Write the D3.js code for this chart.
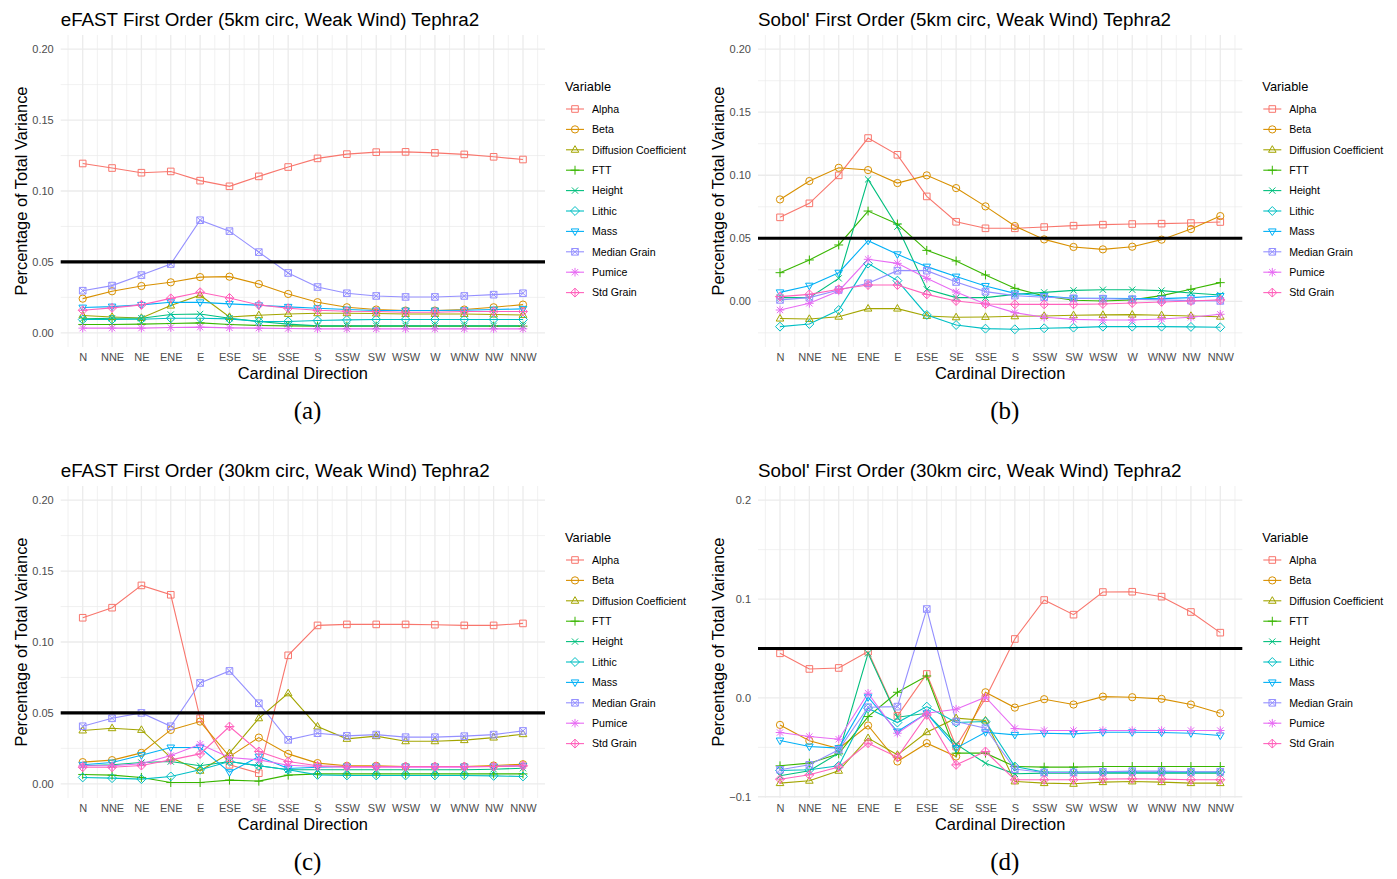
<!DOCTYPE html>
<html>
<head>
<meta charset="utf-8">
<script src="https://cdn.jsdelivr.net/npm/d3@7/dist/d3.min.js"></script>
<style>
  html, body { margin: 0; padding: 0; background: #ffffff; }
  svg { display: block; }
  text { font-family: "Liberation Sans", Arial, Helvetica, sans-serif; }
</style>
</head>
<body>
<svg id="fig" width="1397" height="879"></svg>
<script>
// Cardinal directions on the x axis
const directions = ["N","NNE","NE","ENE","E","ESE","SE","SSE","S","SSW","SW","WSW","W","WNW","NW","NNW"];
// Input variables (legend order)
const variables = ["Alpha","Beta","Diffusion Coefficient","FTT","Height","Lithic","Mass","Median Grain","Pumice","Std Grain"];
const colors = ["#F8766D","#D89000","#A3A500","#39B600","#00BF7D","#00BFC4","#00B0F6","#9590FF","#E76BF3","#FF62BC"];
const shapes = ["square","circle","triangle","plus","cross","diamond","triangleDown","squareCross","asterisk","diamondPlus"];
const threshold = 0.05;

// First-order indices, one row per variable, one column per direction
const efast5km = [
  [0.1194,0.1162,0.1129,0.1138,0.1073,0.1033,0.1103,0.1169,0.1230,0.1260,0.1274,0.1276,0.1269,0.1258,0.1241,0.1222],
  [0.0241,0.0293,0.0330,0.0356,0.0393,0.0396,0.0344,0.0274,0.0216,0.0180,0.0164,0.0157,0.0157,0.0164,0.0180,0.0199],
  [0.0122,0.0112,0.0105,0.0192,0.0265,0.0112,0.0124,0.0133,0.0138,0.0138,0.0136,0.0133,0.0133,0.0133,0.0129,0.0126],
  [0.0059,0.0059,0.0061,0.0066,0.0070,0.0059,0.0052,0.0049,0.0047,0.0047,0.0047,0.0047,0.0047,0.0047,0.0047,0.0047],
  [0.0098,0.0103,0.0103,0.0129,0.0133,0.0103,0.0080,0.0061,0.0049,0.0049,0.0049,0.0049,0.0049,0.0049,0.0049,0.0049],
  [0.0094,0.0094,0.0096,0.0103,0.0103,0.0098,0.0080,0.0080,0.0087,0.0091,0.0094,0.0094,0.0094,0.0094,0.0094,0.0094],
  [0.0178,0.0185,0.0197,0.0215,0.0215,0.0204,0.0194,0.0183,0.0173,0.0164,0.0157,0.0157,0.0157,0.0159,0.0164,0.0169],
  [0.0297,0.0333,0.0407,0.0485,0.0794,0.0717,0.0569,0.0422,0.0323,0.0279,0.0260,0.0253,0.0253,0.0260,0.0269,0.0279],
  [0.0033,0.0033,0.0033,0.0037,0.0040,0.0035,0.0033,0.0030,0.0028,0.0028,0.0028,0.0028,0.0028,0.0028,0.0028,0.0028],
  [0.0159,0.0176,0.0197,0.0243,0.0286,0.0246,0.0197,0.0173,0.0159,0.0152,0.0150,0.0145,0.0145,0.0150,0.0150,0.0150]
];
const sobol5km = [
  [0.0666,0.0777,0.0999,0.1295,0.1162,0.0832,0.0631,0.0579,0.0579,0.0589,0.0600,0.0608,0.0613,0.0616,0.0621,0.0629],
  [0.0808,0.0954,0.1059,0.1041,0.0938,0.0999,0.0898,0.0753,0.0597,0.0491,0.0431,0.0412,0.0433,0.0489,0.0573,0.0676],
  [-0.0137,-0.0140,-0.0122,-0.0058,-0.0058,-0.0116,-0.0127,-0.0124,-0.0119,-0.0116,-0.0111,-0.0108,-0.0106,-0.0111,-0.0116,-0.0122],
  [0.0227,0.0328,0.0447,0.0716,0.0613,0.0404,0.0320,0.0209,0.0103,0.0042,0.0008,0.0003,0.0011,0.0045,0.0095,0.0148],
  [0.0029,0.0029,0.0182,0.0967,0.0592,0.0095,0.0029,0.0029,0.0055,0.0071,0.0087,0.0092,0.0092,0.0085,0.0066,0.0050],
  [-0.0201,-0.0180,-0.0069,0.0299,0.0164,-0.0108,-0.0188,-0.0217,-0.0222,-0.0214,-0.0209,-0.0201,-0.0201,-0.0201,-0.0203,-0.0206],
  [0.0071,0.0124,0.0227,0.0481,0.0373,0.0275,0.0196,0.0122,0.0063,0.0042,0.0024,0.0024,0.0021,0.0021,0.0029,0.0042],
  [0.0011,0.0029,0.0090,0.0143,0.0243,0.0243,0.0153,0.0077,0.0045,0.0032,0.0024,0.0021,0.0016,0.0011,0.0005,0.0003],
  [-0.0069,-0.0016,0.0082,0.0333,0.0301,0.0182,0.0074,-0.0021,-0.0090,-0.0127,-0.0143,-0.0148,-0.0148,-0.0140,-0.0127,-0.0103],
  [0.0037,0.0055,0.0095,0.0129,0.0129,0.0055,0.0003,-0.0021,-0.0024,-0.0024,-0.0024,-0.0021,-0.0013,-0.0005,0.0003,0.0011]
];
const efast30km = [
  [0.1171,0.1242,0.1399,0.1333,0.0462,0.0134,0.0075,0.0906,0.1117,0.1124,0.1124,0.1124,0.1122,0.1117,0.1117,0.1131],
  [0.0153,0.0167,0.0218,0.0380,0.0439,0.0192,0.0326,0.0211,0.0146,0.0127,0.0127,0.0122,0.0122,0.0122,0.0129,0.0138],
  [0.0376,0.0392,0.0380,0.0185,0.0092,0.0216,0.0462,0.0638,0.0404,0.0317,0.0336,0.0300,0.0300,0.0308,0.0326,0.0350],
  [0.0066,0.0061,0.0045,0.0009,0.0009,0.0026,0.0019,0.0061,0.0070,0.0070,0.0070,0.0070,0.0070,0.0070,0.0070,0.0070],
  [0.0127,0.0134,0.0150,0.0157,0.0127,0.0157,0.0127,0.0099,0.0099,0.0099,0.0099,0.0099,0.0099,0.0099,0.0103,0.0110],
  [0.0045,0.0040,0.0033,0.0052,0.0099,0.0157,0.0127,0.0099,0.0063,0.0059,0.0059,0.0059,0.0059,0.0059,0.0056,0.0052],
  [0.0134,0.0150,0.0202,0.0256,0.0256,0.0082,0.0192,0.0108,0.0117,0.0122,0.0122,0.0122,0.0122,0.0122,0.0122,0.0127],
  [0.0406,0.0462,0.0500,0.0406,0.0711,0.0796,0.0568,0.0310,0.0357,0.0338,0.0347,0.0329,0.0329,0.0336,0.0347,0.0373],
  [0.0127,0.0127,0.0141,0.0200,0.0279,0.0185,0.0169,0.0131,0.0122,0.0117,0.0117,0.0117,0.0117,0.0117,0.0122,0.0127],
  [0.0117,0.0117,0.0129,0.0169,0.0211,0.0404,0.0228,0.0157,0.0127,0.0122,0.0122,0.0122,0.0122,0.0122,0.0122,0.0127]
];
const sobol30km = [
  [0.0451,0.0293,0.0303,0.0468,-0.0182,0.0242,-0.0492,-0.0003,0.0596,0.0990,0.0842,0.1071,0.1074,0.1024,0.0869,0.0660],
  [-0.0273,-0.0434,-0.0512,-0.0279,-0.0643,-0.0458,-0.0593,0.0057,-0.0098,-0.0013,-0.0067,0.0013,0.0007,-0.0010,-0.0067,-0.0155],
  [-0.0862,-0.0838,-0.0737,-0.0407,-0.0576,-0.0347,-0.0205,-0.0229,-0.0845,-0.0862,-0.0869,-0.0852,-0.0845,-0.0852,-0.0862,-0.0862],
  [-0.0687,-0.0660,-0.0566,-0.0189,0.0057,0.0222,-0.0559,-0.0559,-0.0694,-0.0700,-0.0700,-0.0694,-0.0694,-0.0694,-0.0694,-0.0694],
  [-0.0788,-0.0737,-0.0559,0.0451,-0.0195,-0.0155,-0.0468,-0.0660,-0.0768,-0.0761,-0.0761,-0.0761,-0.0761,-0.0761,-0.0761,-0.0761],
  [-0.0734,-0.0727,-0.0687,-0.0104,-0.0249,-0.0088,-0.0249,-0.0239,-0.0694,-0.0751,-0.0751,-0.0751,-0.0751,-0.0751,-0.0751,-0.0751],
  [-0.0431,-0.0492,-0.0508,0.0007,-0.0340,-0.0155,-0.0508,-0.0347,-0.0374,-0.0357,-0.0364,-0.0347,-0.0347,-0.0350,-0.0357,-0.0380],
  [-0.0727,-0.0677,-0.0525,-0.0094,-0.0088,0.0899,-0.0239,-0.0306,-0.0721,-0.0754,-0.0754,-0.0747,-0.0741,-0.0741,-0.0747,-0.0747],
  [-0.0350,-0.0391,-0.0418,0.0047,-0.0357,-0.0155,-0.0114,0.0007,-0.0310,-0.0330,-0.0330,-0.0330,-0.0330,-0.0330,-0.0330,-0.0330],
  [-0.0822,-0.0778,-0.0700,-0.0458,-0.0599,-0.0172,-0.0677,-0.0542,-0.0828,-0.0828,-0.0828,-0.0822,-0.0818,-0.0822,-0.0828,-0.0828]
];

// y limits: upper fixed at 0.2, lower either fixed or taken from the data
const panels = [
  { title: "eFAST First Order (5km circ, Weak Wind) Tephra2",  data: efast5km,  yLow: 0,      step: 0.05, digits: 2, caption: "(a)", col: 0, row: 0 },
  { title: "Sobol' First Order (5km circ, Weak Wind) Tephra2", data: sobol5km,  yLow: -0.025, step: 0.05, digits: 2, caption: "(b)", col: 1, row: 0 },
  { title: "eFAST First Order (30km circ, Weak Wind) Tephra2", data: efast30km, yLow: 0,      step: 0.05, digits: 2, caption: "(c)", col: 0, row: 1 },
  { title: "Sobol' First Order (30km circ, Weak Wind) Tephra2",data: sobol30km, yLow: null,   step: 0.1,  digits: 1, caption: "(d)", col: 1, row: 1 }
];

const svg = d3.select("#fig");
const colOffset = 697.3, rowOffset = 451;
const base = { left: 60.7, right: 545, top: 35, bottom: 347 };

function shapePath(type, s) {
  const p = d3.path();
  const sq = () => { p.rect(-s, -s, 2 * s, 2 * s); };
  const cr = (k) => { p.moveTo(-k, -k); p.lineTo(k, k); p.moveTo(-k, k); p.lineTo(k, -k); };
  const pl = (k) => { p.moveTo(-k, 0); p.lineTo(k, 0); p.moveTo(0, -k); p.lineTo(0, k); };
  const dm = (k) => { p.moveTo(0, -k); p.lineTo(k, 0); p.lineTo(0, k); p.lineTo(-k, 0); p.closePath(); };
  switch (type) {
    case "square": sq(); break;
    case "circle": p.moveTo(s * 1.1, 0); p.arc(0, 0, s * 1.1, 0, 2 * Math.PI); break;
    case "triangle": p.moveTo(0, -s * 1.25); p.lineTo(s * 1.15, s * 0.75); p.lineTo(-s * 1.15, s * 0.75); p.closePath(); break;
    case "triangleDown": p.moveTo(0, s * 1.25); p.lineTo(s * 1.15, -s * 0.75); p.lineTo(-s * 1.15, -s * 0.75); p.closePath(); break;
    case "plus": pl(s * 1.35); break;
    case "cross": cr(s * 0.95); break;
    case "diamond": dm(s * 1.35); break;
    case "squareCross": sq(); cr(s); break;
    case "asterisk": pl(s * 1.3); cr(s * 0.95); break;
    case "diamondPlus": dm(s * 1.35); pl(s * 1.35); break;
  }
  return p.toString();
}

const markerSize = 3.3;

panels.forEach(cfg => {
  const dx = cfg.col * colOffset, dy = cfg.row * rowOffset;
  const L = base.left + dx, R = base.right + dx, T = base.top + dy, B = base.bottom + dy;

  const allVals = cfg.data.flat();
  const lo = cfg.yLow !== null ? cfg.yLow : d3.min(allVals);
  const hi = 0.2;
  const padY = (hi - lo) * 0.05;
  const y = d3.scaleLinear().domain([lo - padY, hi + padY]).range([B, T]);
  const x = d3.scaleLinear().domain([0.25, directions.length + 0.75]).range([L, R]);

  const g = svg.append("g");

  // grid: minor then major
  const [d0, d1] = y.domain();
  const majors = [];
  for (let v = Math.ceil(d0 / cfg.step - 1e-9) * cfg.step; v <= d1 + 1e-9; v += cfg.step) majors.push(+v.toFixed(6));
  const minors = [];
  majors.forEach(v => { [v - cfg.step / 2, v + cfg.step / 2].forEach(m => { if (m >= d0 && m <= d1 && !minors.some(q => Math.abs(q - m) < 1e-9)) minors.push(m); }); });
  const xMajor = d3.range(1, directions.length + 1);
  const xMinor = d3.range(0.5, directions.length + 1, 1);

  g.selectAll(".ymin").data(minors).join("line")
    .attr("x1", L).attr("x2", R).attr("y1", d => y(d)).attr("y2", d => y(d))
    .attr("stroke", "#EBEBEB").attr("stroke-width", 0.7);
  g.selectAll(".xmin").data(xMinor).join("line")
    .attr("x1", d => x(d)).attr("x2", d => x(d)).attr("y1", T).attr("y2", B)
    .attr("stroke", "#EBEBEB").attr("stroke-width", 0.7);
  g.selectAll(".ymaj").data(majors).join("line")
    .attr("x1", L).attr("x2", R).attr("y1", d => y(d)).attr("y2", d => y(d))
    .attr("stroke", "#EBEBEB").attr("stroke-width", 1.3);
  g.selectAll(".xmaj").data(xMajor).join("line")
    .attr("x1", d => x(d)).attr("x2", d => x(d)).attr("y1", T).attr("y2", B)
    .attr("stroke", "#EBEBEB").attr("stroke-width", 1.3);

  // axes (text only, no axis lines)
  const yAxis = d3.axisLeft(y).tickValues(majors).tickSize(0).tickPadding(7)
    .tickFormat(d => d3.format(`.${cfg.digits}f`)(d).replace("-", "\u2212"));
  const ya = g.append("g").attr("transform", `translate(${L},0)`).call(yAxis);
  ya.select(".domain").remove();
  ya.selectAll("text").attr("font-size", 11).attr("fill", "#4D4D4D")
    .style("font-family", '"Liberation Sans", Arial, sans-serif');

  const xAxis = d3.axisBottom(x).tickValues(xMajor).tickSize(0).tickPadding(6)
    .tickFormat(d => directions[d - 1]);
  const xa = g.append("g").attr("transform", `translate(0,${B})`).call(xAxis);
  xa.select(".domain").remove();
  xa.selectAll("text").attr("font-size", 11).attr("fill", "#4D4D4D")
    .style("font-family", '"Liberation Sans", Arial, sans-serif');

  // series
  const line = d3.line().x((d, i) => x(i + 1)).y(d => y(d));
  cfg.data.forEach((vals, k) => {
    g.append("path").datum(vals).attr("d", line)
      .attr("fill", "none").attr("stroke", colors[k]).attr("stroke-width", 1.1);
  });
  cfg.data.forEach((vals, k) => {
    g.selectAll(null).data(vals).join("path")
      .attr("transform", (d, i) => `translate(${x(i + 1)},${y(d)})`)
      .attr("d", shapePath(shapes[k], markerSize))
      .attr("fill", "none").attr("stroke", colors[k]).attr("stroke-width", 1);
  });

  // significance threshold
  g.append("line").attr("x1", L).attr("x2", R)
    .attr("y1", y(threshold)).attr("y2", y(threshold))
    .attr("stroke", "#000").attr("stroke-width", 3.2);

  // titles
  g.append("text").attr("x", L).attr("y", T - 9).attr("font-size", 18.8).attr("fill", "#000").text(cfg.title);
  g.append("text").attr("x", (L + R) / 2).attr("y", B + 32).attr("text-anchor", "middle")
    .attr("font-size", 16.4).attr("fill", "#000").text("Cardinal Direction");
  g.append("text").attr("transform", `translate(${L - 34},${(T + B) / 2}) rotate(-90)`)
    .attr("text-anchor", "middle").attr("font-size", 16.4).attr("fill", "#000")
    .text("Percentage of Total Variance");

  // legend
  const lx = 565 + dx, ly = 86.7 + dy;
  const lg = g.append("g");
  lg.append("text").attr("x", lx).attr("y", ly + 4.6).attr("font-size", 12.8).attr("fill", "#000").text("Variable");
  variables.forEach((name, k) => {
    const iy = ly + 22.3 + k * 20.4;
    const kx = lx + 10;
    lg.append("line").attr("x1", kx - 9).attr("x2", kx + 9).attr("y1", iy).attr("y2", iy)
      .attr("stroke", colors[k]).attr("stroke-width", 1.1);
    lg.append("path").attr("transform", `translate(${kx},${iy})`).attr("d", shapePath(shapes[k], markerSize))
      .attr("fill", "none").attr("stroke", colors[k]).attr("stroke-width", 1);
    lg.append("text").attr("x", lx + 27).attr("y", iy + 3.8).attr("font-size", 10.6).attr("fill", "#000").text(name);
  });

  // sub-figure caption
  g.append("text").attr("x", 307.5 + dx).attr("y", 419 + dy).attr("text-anchor", "middle")
    .attr("font-size", 25).style("font-family", '"Liberation Serif", "DejaVu Serif", serif')
    .attr("fill", "#000").text(cfg.caption);
});
</script>
</body>
</html>
